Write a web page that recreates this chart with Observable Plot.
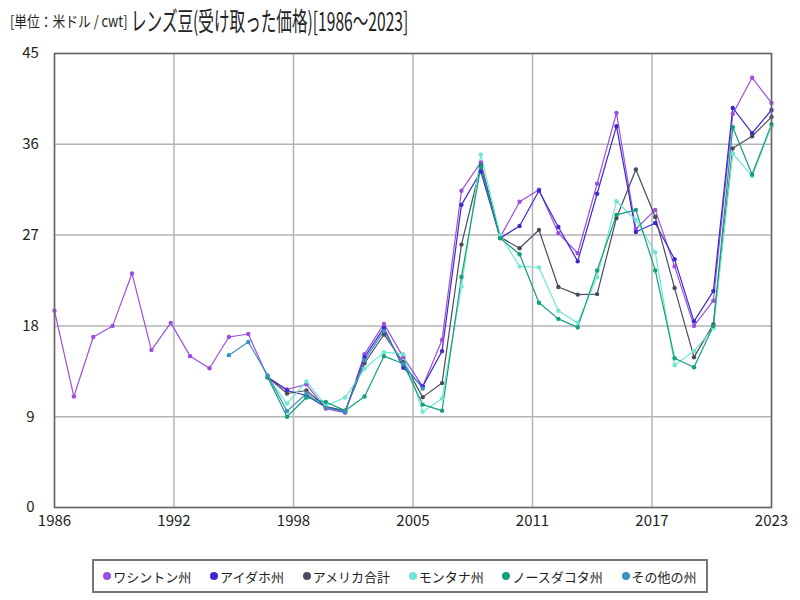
<!DOCTYPE html>
<html><head><meta charset="utf-8">
<script src="https://cdn.jsdelivr.net/npm/d3@7"></script>
<script src="https://cdn.jsdelivr.net/npm/@observablehq/plot@0.6"></script>
<style>
body{margin:0;background:#fff;font-family:"Noto Sans CJK JP","Noto Sans",sans-serif;}
#wrap{position:relative;width:800px;height:600px;overflow:hidden}
#sub{position:absolute;left:10px;top:10px;font-size:15px;color:#222;white-space:nowrap;transform:scaleX(0.85);transform-origin:left}
#title{position:absolute;left:131px;top:1px;font-size:26px;color:#222;white-space:nowrap;transform:scaleX(0.6);transform-origin:left}
#chart{position:absolute;left:0;top:0}
#legend{position:absolute;left:92px;top:559px;width:612px;height:30px;border:2px solid #777;display:flex;align-items:center;justify-content:space-around;font-size:13px;color:#222;box-sizing:content-box;font-family:"Noto Sans CJK JP";-webkit-font-smoothing:antialiased}
#legend span.it{display:flex;align-items:center;white-space:nowrap;color:#222}
#legend i{display:inline-block;width:8px;height:8px;border-radius:50%;margin-right:2px}
</style></head>
<body><div id="wrap">
<div id="chart"></div>
<div id="sub">[単位：米ドル / cwt]</div>
<div id="title">レンズ豆(受け取った価格)[1986～2023]</div>
<div id="legend"></div>
</div>
<script>
const years = [1986,1987,1988,1989,1990,1991,1992,1993,1994,1995,1996,1997,1998,1999,2000,2001,2002,2003,2004,2005,2006,2007,2008,2009,2010,2011,2012,2013,2014,2015,2016,2017,2018,2019,2020,2021,2022,2023];
const seriesNames = ["ワシントン州","アイダホ州","アメリカ合計","モンタナ州","ノースダコタ州","その他の州"];
const seriesColors = ["#9b4fe0","#3b2ad0","#4b4b5e","#6ee8d2","#13a07c","#3a93bf"];
const washington = [19.5,11.0,16.9,18.0,23.2,15.6,18.3,15.0,13.8,16.9,17.2,12.9,11.7,12.2,9.8,9.4,15.2,18.2,14.9,12.0,16.6,31.4,34.2,26.8,30.3,31.5,27.2,25.2,32.1,39.1,27.6,29.5,23.9,18.0,20.5,39.0,42.6,40.1];
const idaho = [null,null,null,null,null,null,null,null,null,null,null,12.9,11.6,11.1,9.95,9.5,14.9,17.8,13.85,12.0,15.5,30.0,33.3,26.7,27.9,31.4,27.8,24.4,31.1,37.8,27.3,28.2,24.6,18.45,21.45,39.6,37.1,39.4];
const usTotal = [null,null,null,null,null,null,null,null,null,null,null,12.9,11.3,11.6,10.0,9.6,14.3,17.15,14.4,10.94,12.33,26.06,33.9,26.8,25.7,27.5,21.85,21.1,21.15,28.7,33.5,28.8,21.75,14.9,18.15,35.6,36.8,38.7];
const montana = [null,null,null,null,null,null,null,null,null,null,null,12.9,10.3,12.5,10.1,10.9,13.75,15.4,15.2,9.5,10.8,21.9,35.0,27.0,23.9,23.8,19.5,18.3,22.85,30.35,28.5,25.3,14.1,15.5,17.75,35.1,32.85,37.8];
const northDakota = [null,null,null,null,null,null,null,null,null,null,null,12.9,9.0,10.9,10.45,9.6,11.0,15.0,14.25,10.2,9.6,22.85,33.8,26.7,25.1,20.3,18.7,17.85,23.5,29.0,29.5,23.5,14.8,13.9,18.0,37.7,33.0,38.0];
const others = [null,null,null,null,null,null,null,null,null,15.1,16.4,13.1,9.55,11.3,9.9,9.5,14.6,17.5,14.2,11.8,null,null,null,null,null,null,null,null,null,null,null,null,null,null,null,null,null,null];
const yTicks = [0,9,18,27,36,45];
const xTickCount = 6;

const allSeries = [washington,idaho,usTotal,montana,northDakota,others];
const rows = [];
allSeries.forEach((vals,si)=>{
  vals.forEach((v,i)=>{ if(v!=null) rows.push({series:seriesNames[si], year:years[i], value:v}); });
});
const x0 = years[0], x1 = years[years.length-1];
const xTicks = d3.range(xTickCount+1).map(i => x0 + i*(x1-x0)/xTickCount);

const chart = Plot.plot({
  width: 800, height: 545,
  marginLeft: 54, marginRight: 29, marginTop: 53, marginBottom: 38,
  style:{fontFamily:'"Noto Sans CJK JP","Noto Sans",sans-serif', fontSize:"15px", color:"#222", background:"transparent"},
  x:{domain:[x0,x1], label:null},
  y:{domain:[0,45], label:null},
  color:{domain:seriesNames, range:seriesColors},
  marks:[
    Plot.gridX(xTicks,{stroke:"#b4b4b4", strokeOpacity:1, strokeWidth:1.5}),
    Plot.gridY(yTicks,{stroke:"#b4b4b4", strokeOpacity:1, strokeWidth:1.5}),
    Plot.axisX(xTicks,{tickSize:0, tickPadding:8, tickFormat:d=>String(Math.round(d)), fontSize:15, label:null}),
    Plot.axisY(yTicks,{tickSize:0, tickPadding:24, textAnchor:"middle", fontSize:15, label:null}),
    Plot.line(rows,{x:"year", y:"value", z:"series", stroke:"series", strokeWidth:1.2}),
    Plot.dot(rows,{x:"year", y:"value", fill:"series", r:2.2}),
    Plot.frame({stroke:"#666", strokeWidth:1.5})
  ]
});
document.getElementById("chart").appendChild(chart);

const lg = document.getElementById("legend");
seriesNames.forEach((n,i)=>{
  const s = document.createElement("span"); s.className="it";
  const dot = document.createElement("i"); dot.style.background = seriesColors[i];
  s.appendChild(dot); s.appendChild(document.createTextNode(n));
  lg.appendChild(s);
});
</script></body></html>
